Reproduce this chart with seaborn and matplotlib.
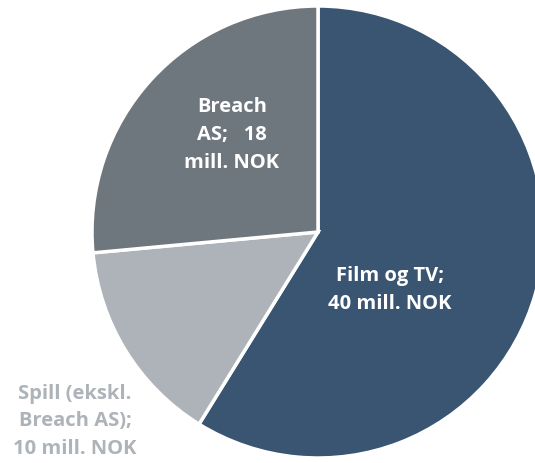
import matplotlib
matplotlib.use("Agg")
import matplotlib.pyplot as plt
import seaborn as sns

# data
segments = ["Film og TV", "Spill (ekskl. Breach AS)", "Breach AS"]
values = [40, 10, 18]
labels = ["Film og TV;\n40 mill. NOK",
          "Spill (ekskl.\nBreach AS);\n10 mill. NOK",
          "Breach\nAS;   18\nmill. NOK"]
colors = ["#3a5572", "#adb3b9", "#6e767e"]
text_colors = ["white", "#adb3b9", "white"]

sns.set_style("white")
plt.rcParams['font.family'] = ['Open Sans', 'DejaVu Sans']

fig = plt.figure(figsize=(5.35, 4.63), dpi=100)
ax = fig.add_axes([0, 0, 1, 1])

cx, cy, r = 318, 231, 226
ax.pie(values, colors=colors, startangle=90, counterclock=False,
       center=(cx, cy), radius=r, frame=True,
       wedgeprops=dict(edgecolor='white', linewidth=2.5))
ax.set_xlim(0, 535)
ax.set_ylim(0, 463)
ax.set_aspect('equal')
ax.axis('off')

# label positions (pixels from top-left)
label_pos = [(390, 290), (75, 421), (232, 135)]
for lab, (px, py), tc in zip(labels, label_pos, text_colors):
    ax.text(px, 463 - py, lab, ha='center', va='center', color=tc,
            fontsize=14.5, fontweight='bold', linespacing=1.5)

fig.savefig("out.png", dpi=100)
